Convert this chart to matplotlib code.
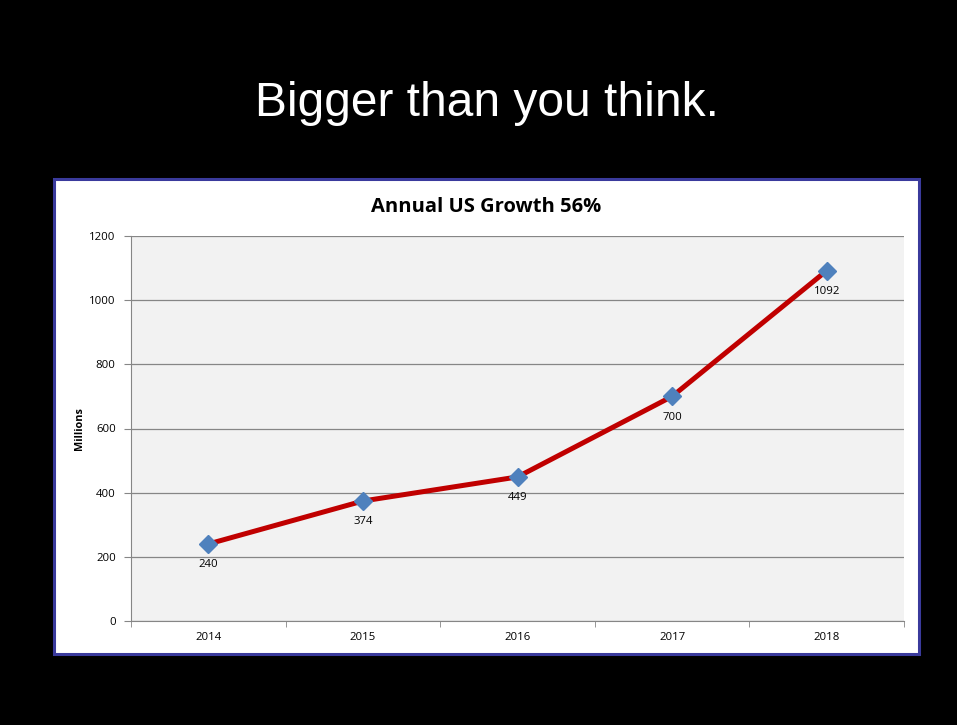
import matplotlib.pyplot as plt
from matplotlib.patches import Rectangle

years = ["2014", "2015", "2016", "2017", "2018"]
users = [240, 374, 449, 700, 1092]
y_ticks = [0, 200, 400, 600, 800, 1000, 1200]

W, H = 957, 725
fig = plt.figure(figsize=(W / 100, H / 100), dpi=100, facecolor="black")

# white chart box with blue border
box = Rectangle((54 / W, 1 - 654 / H), (919 - 54) / W, (654 - 179) / H,
                transform=fig.transFigure, facecolor="white",
                edgecolor="#3a3a9c", linewidth=2.2, zorder=-5)
fig.patches.append(box)

fig.text(487 / W, 1 - 104 / H, "Bigger than you think.", color="white",
         fontsize=34.5, family="Liberation Sans", ha="center", va="center")

ax = fig.add_axes([131 / W, 1 - 621 / H, (904 - 131) / W, (621 - 236) / H])
ax.set_zorder(2)
ax.set_facecolor("#f2f2f2")

x = range(len(years))
ax.plot(x, users, color="#c00000", linewidth=3.6, marker="D",
        markersize=9, markerfacecolor="#4f81bd", markeredgecolor="#4f81bd",
        zorder=3)
for i, v in enumerate(users):
    ax.annotate(str(v), (i, v), xytext=(0, -11), textcoords="offset points",
                ha="center", va="top", fontsize=8.2, family="Open Sans")

ax.set_xlim(-0.5, len(years) - 0.5)
ax.set_ylim(0, 1200)
ax.set_yticks(y_ticks)
ax.set_yticklabels([str(t) for t in y_ticks], fontsize=8.2, family="Open Sans")
ax.set_xticks(list(x))
ax.set_xticklabels(years, fontsize=8.2, family="Open Sans")
ax.set_xticks([i + 0.5 for i in range(-1, len(years))], minor=True)
ax.tick_params(axis="x", which="major", length=0, pad=8)
ax.tick_params(axis="x", which="minor", length=4, color="#868686")
ax.tick_params(axis="y", length=5, color="#868686", pad=6)
ax.grid(axis="y", color="#868686", linewidth=0.9)
ax.set_axisbelow(True)
for s in ["top", "right"]:
    ax.spines[s].set_visible(False)
for s in ["left", "bottom"]:
    ax.spines[s].set_color("#868686")

ax.set_ylabel("Millions", fontsize=7.8, fontweight="bold", family="Open Sans",
              labelpad=3)
fig.text(486 / W, 1 - 207 / H, "Annual US Growth 56%", fontsize=14.5,
         fontweight="bold", family="Open Sans", ha="center", va="center")

fig.savefig("out.png", dpi=100, facecolor="black")
